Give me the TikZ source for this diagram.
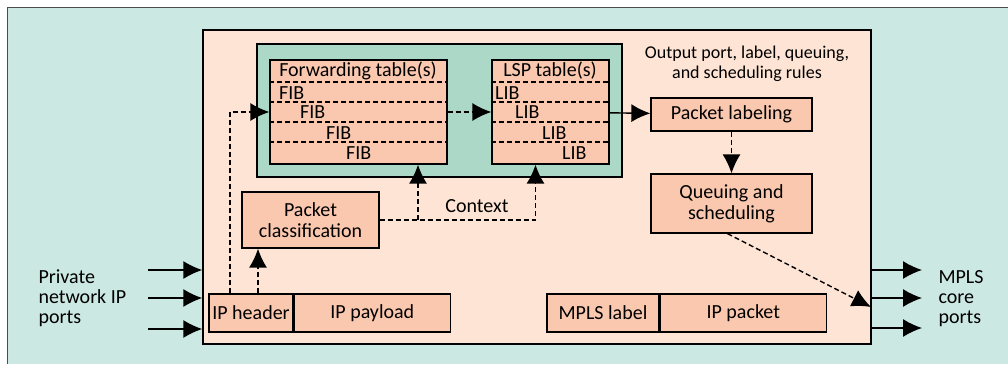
\documentclass[tikz,border=0pt]{standalone}
\usepackage{fontspec}
\setmainfont{Carlito}
\usepackage{tikz}
\usetikzlibrary{arrows.meta, positioning, calc}

\definecolor{panelteal}{RGB}{204,232,227}
\definecolor{routerpeach}{RGB}{253,228,212}
\definecolor{boxsalmon}{RGB}{250,200,175}
\definecolor{tablegreen}{RGB}{172,216,200}

\begin{document}
\begin{tikzpicture}[
        x=1pt, y=-1pt,
        font=\fontsize{20}{21}\selectfont,
        box/.style={draw, line width=1.3pt, fill=boxsalmon, inner sep=0pt, align=center},
        tablebox/.style={box, minimum height=104pt},
        rowtext/.style={anchor=west, inner sep=0pt},
        rowline/.style={line width=1.2pt, dash pattern=on 5pt off 3pt},
        flow/.style={line width=1.4pt, -{Latex[length=19pt,width=18pt]}},
        dflow/.style={flow, dash pattern=on 5pt off 3pt}
    ]
    \useasboundingbox (0,0) rectangle (1008,364);

    % --- Background ---
    \fill[panelteal] (7,7) rectangle (1008,364);
    \draw[black!70, line width=1pt] (7,364) -- (7,7) -- (1008,7);

    % --- Nodes ---
    \node[draw, line width=1.4pt, fill=routerpeach, minimum width=668pt, minimum height=314pt] (router) at (537,187) {};
    \node[draw, line width=1.3pt, fill=tablegreen, minimum width=365pt, minimum height=133pt] (tablearea) at (439.5,110.5) {};

    \node[tablebox, minimum width=177pt] (fwd) at (358.5,112) {};
    \node[tablebox, minimum width=117pt] (lsp) at (550.5,112) {};

    \node[box, minimum width=161pt, minimum height=33pt] (label) at (731.5,114.5) {Packet labeling};
    \node[box, minimum width=161pt, minimum height=59pt] (queue) at (731.5,203.5) {Queuing and\\scheduling};
    \node[align=center, font=\fontsize{18}{20}\selectfont] (rules) at (747,64) {Output port, label, queuing,\\and scheduling rules};

    \node[box, minimum width=137pt, minimum height=56pt] (class) at (310.5,220) {Packet\\classification};

    \node[box, minimum width=84pt, minimum height=38pt] (ipheader) at (251,313) {IP header};
    \node[box, minimum width=156pt, minimum height=38pt, right=0pt of ipheader] (ippayload) {IP payload};
    \node[box, minimum width=112pt, minimum height=38pt] (mplslabel) at (603,313) {MPLS label};
    \node[box, minimum width=166pt, minimum height=38pt, right=0pt of mplslabel] (ippacket) {IP packet};

    \node[align=left, anchor=west, font=\fontsize{20}{20}\selectfont] (private) at (35,298) {Private\\network IP\\ports};
    \node[align=left, anchor=west, font=\fontsize{20}{20}\selectfont] (core) at (935,299) {MPLS\\core\\ports};

    % --- Table rows ---
    \foreach \y in {82,102,122,142} {
        \draw[rowline] (fwd.west |- 0,\y) -- (fwd.east |- 0,\y);
        \draw[rowline] (lsp.west |- 0,\y) -- (lsp.east |- 0,\y);
    }
    \node (fwdtitle) at (358,71) {Forwarding table(s)};
    \node (lsptitle) at (550,71) {LSP table(s)};
    \foreach \x/\y [count=\i] in {279/93, 300/112, 326/133, 346/153}
        \node[rowtext] (fib\i) at (\x,\y) {FIB};
    \foreach \x/\y [count=\i] in {495/93, 515/112, 542/133, 562/153}
        \node[rowtext] (lib\i) at (\x,\y) {LIB};

    % --- Connections ---
    \foreach \y [count=\i] in {270,298,329} {
        \coordinate (in\i) at (148,\y);
        \draw[flow] (in\i) -- (in\i -| router.west);
    }
    \foreach \y [count=\i] in {270,298,328} {
        \coordinate (out\i) at (922,\y);
        \draw[flow] (router.east |- out\i) -- (out\i);
    }

    \draw[dflow] ([xshift=-21pt]ipheader.north) |- (fwd.west);
    \draw[dflow] ([xshift=7pt]ipheader.north) -- ([xshift=7pt]ipheader.north |- class.south);
    \draw[dflow] (fwd) -- (lsp);
    \draw[flow] (lsp) -- (label);
    \draw[dflow] (label) -- (queue);

    \coordinate (qexit) at (871,307);
    \draw[dflow] ([xshift=-4pt]queue.south) -- (qexit);

    % context
    \coordinate (ctxbend) at ([xshift=-15pt]lsp.south |- class.east);
    \draw[dflow] (class.east) -- (ctxbend) -- ([xshift=-15pt]lsp.south);
    \draw[dflow] ([xshift=59.5pt]fwd.south |- class.east) -- ([xshift=59.5pt]fwd.south);
    \node (context) at (477,206) {Context};

\end{tikzpicture}
\end{document}
